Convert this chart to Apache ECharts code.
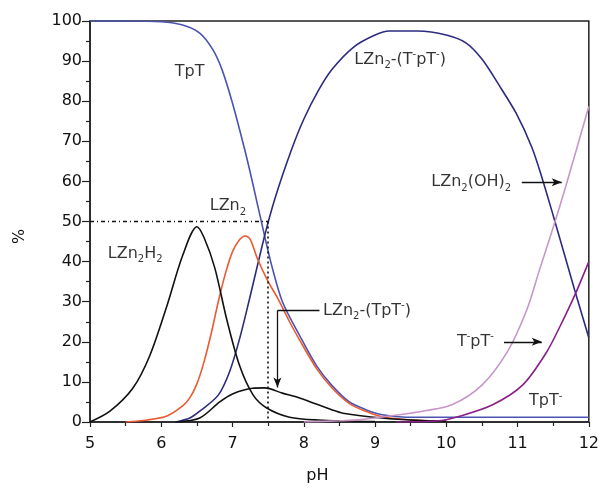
<!DOCTYPE html>
<html>
<head>
<meta charset="utf-8">
<script src="https://cdn.jsdelivr.net/npm/echarts@6/dist/echarts.min.js"></script>
<style>html,body{margin:0;padding:0;background:#fff}#c{width:602px;height:489px}</style>
</head>
<body>
<div id="c"></div>
<script>
// ---- data (pH, %) ----
const tptX   = [5, 5.5, 6.0, 6.3, 6.54, 6.72, 6.85, 7.0, 7.17, 7.28, 7.45, 7.55, 7.7, 7.94, 8.18, 8.4, 8.64, 8.88, 9.1, 9.44, 10, 11, 12];
const tptY   = [100, 100, 99.8, 99, 97, 93, 88, 79.5, 68, 59.8, 46.4, 39, 30, 21.6, 14, 9, 5, 3, 1.8, 1.2, 1.2, 1.2, 1.2];

const cplxX  = [6.2, 6.4, 6.54, 6.8, 6.96, 7.1, 7.24, 7.45, 7.6, 7.83, 8.0, 8.2, 8.4, 8.7, 9.0, 9.2, 9.6, 10.0, 10.28, 10.5, 10.74, 10.98, 11.2, 11.35, 11.5, 11.8, 12];
const cplxY  = [0, 1, 2.7, 6.7, 12.6, 20.8, 30.8, 46.4, 56, 68, 75.5, 82.5, 88, 93.5, 96.5, 97.5, 97.5, 96.5, 94.5, 90.5, 84, 77, 68.5, 60.5, 51.5, 33, 21];

const lzn2X  = [5.5, 5.8, 6.08, 6.3, 6.4, 6.5, 6.6, 6.7, 6.8, 6.9, 7.0, 7.1, 7.18, 7.25, 7.35, 7.5, 7.63, 7.8, 7.94, 8.18, 8.4, 8.64, 8.88, 9.1, 9.5, 10];
const lzn2Y  = [0, 0.5, 1.5, 4, 6, 9.5, 15, 22, 30, 37, 42.5, 45.5, 46.4, 45.5, 40.7, 35, 31, 25, 20.5, 13.3, 8.4, 4.6, 2.6, 1.3, 0.5, 0.2];

const lzn2h2X = [5.0, 5.28, 5.6, 5.84, 6.08, 6.3, 6.5, 6.6, 6.75, 6.92, 7.1, 7.29, 7.48, 7.8, 8.2, 9.0];
const lzn2h2Y = [0, 2.7, 8.4, 16.6, 29, 41.5, 48.7, 46, 38.5, 25.5, 14, 6.7, 3.5, 1.2, 0.5, 0.1];

const cplxMX = [6.2, 6.54, 6.82, 7.0, 7.28, 7.45, 7.7, 7.94, 8.4, 8.55, 9.1, 9.6, 10];
const cplxMY = [0, 1, 5, 7, 8.4, 8.5, 7.2, 6, 3, 2.2, 1, 0.4, 0.2];

const ohX    = [8.0, 8.5, 8.8, 9.34, 9.7, 10.08, 10.5, 10.86, 11.13, 11.3, 11.5, 11.68, 12];
const ohY    = [0, 0.3, 0.6, 1.8, 2.8, 4.3, 9.2, 17.6, 28, 37.5, 48.5, 59, 78.7];

const tmX    = [9.3, 9.9, 10.2, 10.65, 11.07, 11.4, 11.6, 11.8, 12];
const tmY    = [0, 0.3, 1.5, 4.3, 9.2, 17.2, 24, 31.5, 40];

const seriesNames = ['TpT', 'LZn2-(T-pT-)', 'LZn2', 'LZn2H2', 'LZn2-(TpT-)', 'LZn2(OH)2', 'T-pT-'];

// annotation texts
const annTexts = [
  '{n|TpT}',
  '{n|LZn}{sub|2}{n|-(T}{sup|-}{n|pT}{sup|-}{n|)}',
  '{n|LZn}{sub|2}',
  '{n|LZn}{sub|2}{n|H}{sub|2}',
  '{n|LZn}{sub|2}{n|-(TpT}{sup|-}{n|)}',
  '{n|LZn}{sub|2}{n|(OH)}{sub|2}',
  '{n|T}{sup|-}{n|pT}{sup|-}',
  '{n|TpT}{sup|-}'
];
const annX = [6.19, 8.71, 6.68, 5.25, 8.27, 9.79, 10.15, 11.16];
const annY = [87.3, 90.3, 53.8, 42, 27.8, 59.8, 20, 5.2];

const xTicks = [5, 6, 7, 8, 9, 10, 11, 12];
const yTicks = [0, 10, 20, 30, 40, 50, 60, 70, 80, 90, 100];

function pairs(xs, ys) { return xs.map((x, i) => [x, ys[i]]); }

const font = 'DejaVu Sans, Liberation Sans, Arial, sans-serif';
const chart = echarts.init(document.getElementById('c'), null, {renderer: 'canvas'});

function lineSeries(name, xs, ys, color) {
  return {
    name: name, type: 'line', data: pairs(xs, ys), showSymbol: false, symbol: 'none',
    smooth: 0.3,
    lineStyle: {color: color, width: 1.6}, z: 3, animation: false
  };
}

const rich = {
  n: {fontFamily: font, fontSize: 16, color: '#000', textBorderWidth: 0},
  sub: {fontFamily: font, fontSize: 10, color: '#000', textBorderWidth: 0, padding: [12, 0, 0, 0]},
  sup: {fontFamily: font, fontSize: 10, color: '#000', textBorderWidth: 0, padding: [0, 0, 10, 0]}
};

const option = {
  animation: false,
  backgroundColor: '#fff',
  grid: {left: 90, right: 12, top: 21, bottom: 65, show: true, borderColor: '#222', borderWidth: 1.5, backgroundColor: 'transparent'},
  xAxis: {
    type: 'value', min: xTicks[0], max: xTicks[xTicks.length - 1], interval: 1,
    name: 'pH', nameLocation: 'middle', nameGap: 46,
    nameTextStyle: {fontFamily: font, fontSize: 16, color: '#111', padding: [0, 44, 0, 0]},
    axisLine: {show: true, onZero: false, lineStyle: {color: '#222', width: 1.5}},
    axisTick: {show: true, length: 5, lineStyle: {color: '#222', width: 1.2}},
    minorTick: {show: true, splitNumber: 2, length: 4, lineStyle: {color: '#222', width: 1.2}},
    axisLabel: {fontFamily: font, fontSize: 16, color: '#111', margin: 14},
    splitLine: {show: false}
  },
  yAxis: {
    type: 'value', min: yTicks[0], max: yTicks[yTicks.length - 1], interval: 10,
    name: '%', nameLocation: 'middle', nameGap: 62, nameRotate: 90,
    nameTextStyle: {fontFamily: font, fontSize: 16, color: '#111', padding: [0, 30, 0, 0]},
    axisLine: {show: true, onZero: false, lineStyle: {color: '#222', width: 1.5}},
    axisTick: {show: true, length: 8, lineStyle: {color: '#222', width: 1.2}},
    minorTick: {show: true, splitNumber: 2, length: 4, lineStyle: {color: '#222', width: 1.2}},
    axisLabel: {fontFamily: font, fontSize: 16, color: '#111', margin: 8},
    splitLine: {show: false}
  },
  series: [
    lineSeries(seriesNames[0], tptX, tptY, '#4a54b0'),
    lineSeries(seriesNames[1], cplxX, cplxY, '#2c2b80'),
    lineSeries(seriesNames[2], lzn2X, lzn2Y, '#ec5a30'),
    lineSeries(seriesNames[3], lzn2h2X, lzn2h2Y, '#111111'),
    lineSeries(seriesNames[4], cplxMX, cplxMY, '#111111'),
    lineSeries(seriesNames[5], ohX, ohY, '#c896c8'),
    lineSeries(seriesNames[6], tmX, tmY, '#8a1f8a'),
    {
      name: 'guides', type: 'line', data: [], animation: false,
      markLine: {
        silent: true, symbol: ['none', 'none'], animation: false,
        label: {show: false},
        data: [
          [{coord: [5, 50], lineStyle: {type: [4, 3, 1, 3], color: '#111', width: 1.3}}, {coord: [7.5, 50]}],
          [{coord: [7.5, 50], lineStyle: {type: [2, 3], color: '#111', width: 1.6}}, {coord: [7.5, 0]}],
          [{coord: [8.22, 27.8], lineStyle: {type: 'solid', color: '#111', width: 1.3}}, {coord: [7.63, 27.8]}],
          [{coord: [10.81, 20], symbol: 'none', lineStyle: {type: 'solid', color: '#111', width: 1.3}}, {coord: [11.34, 20], symbol: 'arrow', symbolSize: [6, 10]}],
          [{coord: [11.06, 59.8], symbol: 'none', lineStyle: {type: 'solid', color: '#111', width: 1.3}}, {coord: [11.62, 59.8], symbol: 'arrow', symbolSize: [6, 10]}],
          [{coord: [7.63, 27.8], symbol: 'none', lineStyle: {type: 'solid', color: '#111', width: 1.3}}, {coord: [7.63, 8.6], symbol: 'arrow', symbolSize: [6, 10]}]
        ]
      }
    },
    {
      name: 'labels', type: 'scatter', symbolSize: 0, animation: false, silent: true, z: 5,
      data: annX.map((x, i) => ({value: [x, annY[i]], label: {formatter: annTexts[i]}})),
      label: {show: true, position: 'right', distance: 0, align: 'left', verticalAlign: 'middle', color: '#000', textBorderWidth: 0, rich: rich}
    }
  ]
};
chart.setOption(option);
</script>
</body>
</html>
